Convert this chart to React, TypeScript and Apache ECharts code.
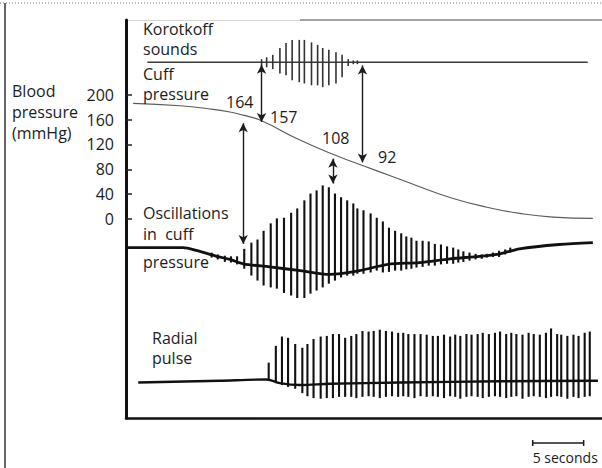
import React, { useEffect, useRef } from "react";
import * as echarts from "echarts";

// ---- axes ----
const pressureTicks = [0, 40, 80, 120, 160, 200];
const timeMax = 46.7; // seconds visible in the frame

// ---- cuff pressure (s, mmHg) ----
const cuffTimes = [0.7, 5.3, 8.2, 10.2, 11.5, 13.3, 16.8, 20.3, 23.2, 26.2, 28.8, 32.1, 35.4, 38.6, 41.9, 45.8];
const cuffPressure = [186, 182, 177, 172, 167, 158, 129, 104, 86, 68, 52, 33, 19, 9, 3, 1];

// ---- Korotkoff sounds (trace level on the same vertical scale) ----
const korBaseTimes = [2.1, 45.3];
const korBase = [252, 252];
const korTimes = [13.3, 13.8, 14.4, 15.1, 15.7, 16.3, 17.0, 17.5, 18.2, 18.8, 19.3, 19.9, 20.6, 21.2, 21.8, 22.3, 22.7];
const korTop = [257, 260, 264, 275, 283, 288, 288, 288, 284, 280, 275, 272, 268, 264, 257, 255, 255];
const korBottom = [246, 244, 241, 234, 231, 223, 220, 218, 215, 215, 212, 215, 218, 228, 246, 249, 249];

// ---- oscillations in cuff pressure ----
const oscBaseTimes = [0, 5.6, 7.0, 8.9, 10.2, 11.5, 14.1, 17.1, 20.0, 22.9, 25.7, 28.8, 31.8, 34.7, 36.7, 38.6, 42.5, 45.8];
const oscBase = [-46, -46, -51, -60, -65, -72, -77, -83, -89, -83, -73, -70, -64, -60, -56, -48, -41, -38];
const oscTimes = [8.4, 9.0, 9.7, 10.3, 10.9, 11.6, 12.3, 12.9, 13.5, 14.2, 14.8, 15.5, 16.2, 16.8, 17.5, 18.1, 18.7, 19.3, 19.9, 20.5, 21.1, 21.7, 22.3, 22.7, 23.3, 24.0, 24.6, 25.2, 25.8, 26.4, 27.0, 27.5, 28.0, 28.5, 29.1, 29.7, 30.3, 30.9, 31.5, 32.1, 32.6, 33.1, 33.7, 34.3, 34.9, 35.4, 36.0, 36.6, 37.2, 37.7];
const oscTop = [-54, -57, -59, -60, -60, -48, -38, -33, -19, -7, 1, 2, 10, 17, 30, 41, 46, 54, 51, 41, 35, 30, 25, 17, 14, 9, 2, -4, -14, -19, -23, -28, -30, -35, -35, -36, -40, -41, -44, -46, -49, -52, -54, -56, -57, -56, -54, -51, -49, -46];
const oscBottom = [-62, -65, -69, -70, -73, -80, -91, -99, -107, -110, -112, -119, -123, -127, -127, -120, -115, -110, -104, -99, -94, -91, -91, -88, -88, -86, -83, -86, -85, -83, -83, -81, -80, -78, -77, -75, -75, -73, -72, -72, -70, -69, -67, -65, -64, -62, -61, -61, -57, -54];

// ---- radial pulse ----
const radBaseTimes = [1.2, 9.2, 13.8, 15.1, 17.1, 20.0, 26.9, 36.7, 46.3];
const radBase = [-263, -260, -258, -264, -267, -265, -263, -261, -260];
const radTimes = [14.0, 14.7, 15.3, 15.9, 16.6, 17.3, 17.8, 18.4, 19.1, 19.7, 20.3, 20.9, 21.5, 22.1, 22.6, 23.2, 23.8, 24.3, 24.9, 25.5, 26.1, 26.7, 27.2, 27.7, 28.3, 28.9, 29.5, 30.1, 30.6, 31.2, 31.8, 32.3, 32.8, 33.4, 33.9, 34.5, 35.0, 35.6, 36.2, 36.7, 37.3, 37.8, 38.3, 38.9, 39.5, 40.0, 40.6, 41.2, 41.7, 42.3, 42.7, 43.3, 43.9, 44.4, 45.0, 45.5];
const radTop = [-231, -204, -189, -191, -201, -207, -201, -193, -189, -188, -185, -185, -191, -188, -185, -180, -181, -180, -178, -180, -181, -183, -183, -185, -185, -185, -186, -188, -188, -186, -189, -186, -188, -185, -186, -185, -183, -185, -183, -181, -185, -183, -185, -186, -183, -185, -186, -183, -176, -185, -186, -188, -186, -188, -183, -181];
const radBottom = [-259, -264, -267, -270, -273, -280, -285, -288, -289, -288, -288, -286, -286, -286, -288, -286, -285, -286, -288, -286, -285, -286, -285, -286, -288, -285, -286, -285, -286, -288, -285, -286, -289, -286, -285, -286, -288, -286, -285, -286, -288, -286, -285, -289, -286, -285, -286, -288, -286, -285, -286, -289, -286, -288, -286, -285];

// ---- double-headed arrows: [time, from, to] ----
const arrowTimes = [13.3, 23.2, 11.5, 20.3];
const arrowFrom = [248, 247, 154, 97];
const arrowTo = [156, 91, -40, 57];

// ---- annotation values ----
const readings = ["164", "157", "108", "92"];

// ---- scale bar ----
const scaleBarStart = 39.9;
const scaleBarSeconds = 5;

const FONT = "'Open Sans', 'DejaVu Sans', sans-serif";
const INK = "#1c1c1c";

function zip2(t: number[], v: number[]) {
  return t.map((x, i) => [x, v[i]]);
}
function zip3(t: number[], a: number[], b: number[]) {
  return t.map((x, i) => [x, a[i], b[i]]);
}

function spikeSeries(name: string, data: number[][], color: string, width: number) {
  return {
    type: "custom",
    name,
    data,
    encode: { x: 0, y: [1, 2] },
    silent: true,
    z: 4,
    renderItem: (_p: any, api: any) => {
      const a = api.coord([api.value(0), api.value(1)]);
      const b = api.coord([api.value(0), api.value(2)]);
      return {
        type: "line",
        shape: { x1: a[0], y1: a[1], x2: b[0], y2: b[1] },
        style: { stroke: color, lineWidth: width, lineCap: "butt" },
      };
    },
  };
}

function lineSeries(name: string, data: number[][], color: string, width: number, smooth: boolean | number) {
  return {
    type: "line",
    name,
    data,
    smooth,
    showSymbol: false,
    symbol: "none",
    silent: true,
    z: 3,
    lineStyle: { color, width },
  };
}

function txt(text: string, x: number, y: number, size = 16, lineHeight = 16, align = "left") {
  return {
    type: "text",
    x,
    y,
    silent: true,
    z: 10,
    style: {
      text,
      fill: INK,
      fontSize: size,
      fontFamily: FONT,
      lineHeight,
      verticalAlign: "middle",
      align,
    },
  };
}

export default function App() {
  const ref = useRef<HTMLDivElement>(null);

  useEffect(() => {
    if (!ref.current) return;
    const chart = echarts.init(ref.current, null, { renderer: "svg" });

    const cuff = lineSeries("Cuff pressure", zip2(cuffTimes, cuffPressure), "#5a5a5a", 1.1, 0.5) as any;
    cuff.markLine = {
      silent: true,
      symbol: ["arrow", "arrow"],
      symbolSize: [7, 9],
      label: { show: false },
      lineStyle: { color: INK, width: 1.4, type: "solid" },
      data: arrowTimes.map((t, i) => [{ coord: [t, arrowFrom[i]] }, { coord: [t, arrowTo[i]] }]),
    };

    chart.setOption({
      animation: false,
      backgroundColor: "#ffffff",
      grid: { left: 126, right: 0, top: 20, bottom: 50 },
      xAxis: {
        type: "value",
        min: 0,
        max: timeMax,
        axisLine: { show: true, onZero: false, lineStyle: { color: "#111", width: 2.5 } },
        axisTick: { show: false },
        axisLabel: { show: false },
        splitLine: { show: false },
      },
      yAxis: {
        type: "value",
        min: -320,
        max: 320,
        interval: 40,
        axisLine: { show: true, onZero: false, lineStyle: { color: "#111", width: 3 } },
        axisTick: { show: true, inside: true, length: 6, customValues: pressureTicks, lineStyle: { color: "#222", width: 1.5 } },
        axisLabel: { show: true, customValues: pressureTicks, margin: 12, fontSize: 16, color: INK, fontFamily: FONT },
        splitLine: { show: false },
      },
      series: [
        cuff,
        lineSeries("Korotkoff baseline", zip2(korBaseTimes, korBase), "#3a3a3a", 1.5, false),
        spikeSeries("Korotkoff sounds", zip3(korTimes, korTop, korBottom), "#333", 1.6),
        lineSeries("Oscillation baseline", zip2(oscBaseTimes, oscBase), "#111", 2.8, 0.3),
        spikeSeries("Oscillations", zip3(oscTimes, oscTop, oscBottom), "#111", 2.1),
        lineSeries("Radial baseline", zip2(radBaseTimes, radBase), "#111", 2.4, 0.3),
        spikeSeries("Radial pulse", zip3(radTimes, radTop, radBottom), "#111", 2.1),
      ],
    });

    const p0 = chart.convertToPixel({ gridIndex: 0 }, [scaleBarStart, 0]) as number[];
    const p1 = chart.convertToPixel({ gridIndex: 0 }, [scaleBarStart + scaleBarSeconds, 0]) as number[];
    const barY = 443;

    const graphics: any[] = [
      // page edges
      { type: "line", silent: true, shape: { x1: 0, y1: 3, x2: 602, y2: 3 }, style: { stroke: "#777", lineWidth: 1, lineDash: [1, 2] } },
      { type: "line", silent: true, shape: { x1: 5, y1: 3, x2: 5, y2: 468 }, style: { stroke: "#000", lineWidth: 1.2 } },
      // top frame edge
      { type: "line", silent: true, shape: { x1: 127, y1: 20.5, x2: 300, y2: 20.5 }, style: { stroke: "#d4d4d4", lineWidth: 1 } },
      { type: "line", silent: true, shape: { x1: 300, y1: 20, x2: 602, y2: 20 }, style: { stroke: "#a4a4a4", lineWidth: 2 } },
      // labels
      txt("Korotkoff\nsounds", 143, 39, 16, 20),
      txt("Cuff\npressure", 143, 84, 16, 20),
      txt("Blood\npressure\n(mmHg)", 12, 112, 16, 21),
      txt("Oscillations\nin  cuff", 143, 223.5, 16, 21),
      txt("pressure", 143, 262),
      txt("Radial\npulse", 152, 348, 16, 20),
      // readings
      txt(readings[0], 226, 102),
      txt(readings[1], 270, 117),
      txt(readings[2], 322, 138),
      txt(readings[3], 378, 157),
      // scale bar
      { type: "line", silent: true, shape: { x1: p0[0], y1: barY, x2: p1[0], y2: barY }, style: { stroke: INK, lineWidth: 1.5 } },
      { type: "line", silent: true, shape: { x1: p0[0], y1: barY - 3, x2: p0[0], y2: barY + 3 }, style: { stroke: INK, lineWidth: 1.5 } },
      { type: "line", silent: true, shape: { x1: p1[0], y1: barY - 3, x2: p1[0], y2: barY + 3 }, style: { stroke: INK, lineWidth: 1.5 } },
      txt(scaleBarSeconds + " seconds", p0[0], 457, 14, 14),
    ];
    chart.setOption({ graphic: graphics });

    return () => chart.dispose();
  }, []);

  return (
    <div
      ref={ref}
      style={{ position: "fixed", left: 0, top: 0, width: 602, height: 468, background: "#fff" }}
    />
  );
}
